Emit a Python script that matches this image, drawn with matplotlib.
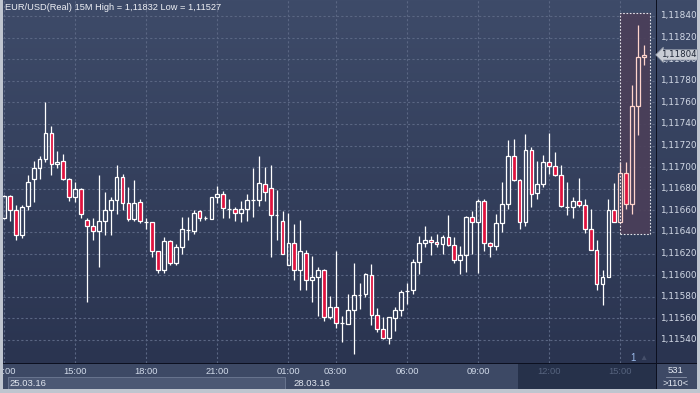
import numpy as np
import matplotlib
matplotlib.use("Agg")
import matplotlib.pyplot as plt
from matplotlib.patches import Rectangle
from matplotlib.colors import LinearSegmentedColormap

plt.rcParams['font.family'] = ['Liberation Sans', 'DejaVu Sans']

# EUR/USD 15 minute bars
opens = [1.11653, 1.11673, 1.11660, 1.11637, 1.11664, 1.11689, 1.11699, 1.11708, 1.11732, 1.11703,
         1.11706, 1.11689, 1.11672, 1.11680, 1.11651, 1.11646, 1.11641, 1.11650, 1.11660, 1.11670,
         1.11691, 1.11667, 1.11652, 1.11668, 1.11649, 1.11649, 1.11622, 1.11605, 1.11632, 1.11611,
         1.11626, 1.11642, 1.11641, 1.11659, 1.11653, 1.11652, 1.11672, 1.11675, 1.11661, 1.11661,
         1.11658, 1.11661, 1.11670, 1.11670, 1.11684, 1.11681, 1.11656, 1.11650, 1.11609, 1.11630,
         1.11605, 1.11621, 1.11596, 1.11598, 1.11605, 1.11561, 1.11571, 1.11556, 1.11555, 1.11568,
         1.11582, 1.11583, 1.11600, 1.11563, 1.11550, 1.11542, 1.11560, 1.11568, 1.11585, 1.11586,
         1.11612, 1.11630, 1.11633, 1.11631, 1.11629, 1.11635, 1.11628, 1.11614, 1.11619, 1.11654,
         1.11649, 1.11669, 1.11630, 1.11627, 1.11648, 1.11666, 1.11710, 1.11688, 1.11649, 1.11716,
         1.11676, 1.11684, 1.11705, 1.11701, 1.11693, 1.11663, 1.11663, 1.11669, 1.11665, 1.11643,
         1.11623, 1.11592, 1.11598, 1.11660, 1.11649, 1.11695, 1.11666, 1.11757, 1.11802]
highs = [1.11674, 1.11674, 1.11665, 1.11665, 1.11693, 1.11706, 1.11710, 1.11760, 1.11738, 1.11715,
         1.11712, 1.11690, 1.11686, 1.11681, 1.11653, 1.11653, 1.11693, 1.11677, 1.11672, 1.11702,
         1.11694, 1.11682, 1.11688, 1.11671, 1.11653, 1.11649, 1.11622, 1.11635, 1.11633, 1.11629,
         1.11654, 1.11654, 1.11660, 1.11660, 1.11655, 1.11672, 1.11683, 1.11678, 1.11671, 1.11663,
         1.11669, 1.11675, 1.11699, 1.11710, 1.11700, 1.11702, 1.11679, 1.11659, 1.11658, 1.11647,
         1.11651, 1.11623, 1.11618, 1.11608, 1.11606, 1.11581, 1.11622, 1.11562, 1.11583, 1.11611,
         1.11593, 1.11602, 1.11610, 1.11570, 1.11561, 1.11561, 1.11571, 1.11586, 1.11593, 1.11615,
         1.11636, 1.11646, 1.11636, 1.11638, 1.11637, 1.11656, 1.11635, 1.11627, 1.11655, 1.11659,
         1.11671, 1.11671, 1.11631, 1.11657, 1.11686, 1.11725, 1.11726, 1.11689, 1.11731, 1.11719,
         1.11706, 1.11711, 1.11732, 1.11714, 1.11702, 1.11686, 1.11672, 1.11690, 1.11671, 1.11661,
         1.11633, 1.11605, 1.11671, 1.11685, 1.11705, 1.11705, 1.11776, 1.11832, 1.11813]
lows = [1.11652, 1.11650, 1.11633, 1.11634, 1.11660, 1.11668, 1.11689, 1.11705, 1.11693, 1.11699,
        1.11688, 1.11669, 1.11668, 1.11653, 1.11575, 1.11633, 1.11608, 1.11637, 1.11637, 1.11657,
        1.11660, 1.11650, 1.11650, 1.11648, 1.11643, 1.11617, 1.11602, 1.11602, 1.11609, 1.11609,
        1.11620, 1.11633, 1.11638, 1.11650, 1.11651, 1.11652, 1.11667, 1.11653, 1.11653, 1.11650,
        1.11649, 1.11650, 1.11654, 1.11664, 1.11669, 1.11617, 1.11633, 1.11620, 1.11609, 1.11596,
        1.11586, 1.11586, 1.11575, 1.11562, 1.11558, 1.11559, 1.11551, 1.11538, 1.11555, 1.11527,
        1.11569, 1.11580, 1.11554, 1.11547, 1.11541, 1.11536, 1.11548, 1.11562, 1.11573, 1.11583,
        1.11601, 1.11626, 1.11619, 1.11626, 1.11620, 1.11627, 1.11611, 1.11601, 1.11603, 1.11620,
        1.11602, 1.11622, 1.11617, 1.11623, 1.11640, 1.11661, 1.11687, 1.11643, 1.11646, 1.11663,
        1.11671, 1.11682, 1.11694, 1.11692, 1.11663, 1.11656, 1.11653, 1.11663, 1.11639, 1.11623,
        1.11586, 1.11572, 1.11598, 1.11649, 1.11649, 1.11661, 1.11657, 1.11730, 1.11795]
closes = [1.11673, 1.11660, 1.11637, 1.11663, 1.11686, 1.11699, 1.11708, 1.11732, 1.11703, 1.11705,
          1.11689, 1.11672, 1.11680, 1.11657, 1.11646, 1.11641, 1.11650, 1.11660, 1.11670, 1.11691,
          1.11667, 1.11652, 1.11667, 1.11650, 1.11649, 1.11622, 1.11605, 1.11632, 1.11611, 1.11626,
          1.11643, 1.11642, 1.11658, 1.11653, 1.11653, 1.11672, 1.11675, 1.11662, 1.11661, 1.11658,
          1.11661, 1.11670, 1.11670, 1.11685, 1.11677, 1.11656, 1.11656, 1.11620, 1.11630, 1.11605,
          1.11622, 1.11596, 1.11598, 1.11605, 1.11561, 1.11571, 1.11556, 1.11556, 1.11568, 1.11582,
          1.11582, 1.11601, 1.11563, 1.11550, 1.11542, 1.11561, 1.11568, 1.11584, 1.11585, 1.11612,
          1.11630, 1.11633, 1.11631, 1.11629, 1.11635, 1.11628, 1.11614, 1.11619, 1.11654, 1.11649,
          1.11669, 1.11630, 1.11627, 1.11648, 1.11666, 1.11710, 1.11688, 1.11649, 1.11716, 1.11675,
          1.11684, 1.11705, 1.11701, 1.11693, 1.11664, 1.11663, 1.11669, 1.11665, 1.11643, 1.11623,
          1.11592, 1.11598, 1.11660, 1.11649, 1.11695, 1.11666, 1.11757, 1.11802, 1.11804]

time_ticks = [0, 12, 24, 36, 48, 56, 68, 80, 92, 104]
time_labels = ["12:00", "15:00", "18:00", "21:00", "01:00", "03:00", "06:00", "09:00", "12:00", "15:00"]
date_starts = [0, 48]
date_labels = ["25.03.16", "28.03.16"]
price_ticks = [1.11540, 1.11560, 1.11580, 1.11600, 1.11620, 1.11640, 1.11660, 1.11680,
               1.11700, 1.11720, 1.11740, 1.11760, 1.11780, 1.11800, 1.11820, 1.11840]
title = "EUR/USD(Real) 15M High = 1,11832 Low = 1,11527"
n_highlight = 5
bars_total = "531"
zoom_label = ">110<"

W, H = 700, 393
STEP = 5.926  # pixels per bar
fig = plt.figure(figsize=(W / 100, H / 100), dpi=100)
fig.patch.set_facecolor('#bfc5cf')


def px_axes(x0, y0, x1, y1):
    a = fig.add_axes([x0 / W, 1 - y1 / H, (x1 - x0) / W, (y1 - y0) / H])
    a.set_axis_off()
    return a


back = px_axes(3, 0, 697, 389)
back.add_patch(Rectangle((0, 0), 1, 1, transform=back.transAxes, fc='#0c1020', ec='none'))

ax = px_axes(3, 0, 656, 363)
pax = px_axes(657, 0, 697, 363)
tax = px_axes(3, 364, 656, 389)
cax = px_axes(657, 364, 697, 389)

xlim = (-1 / STEP, 652 / STEP)
ylim = (1.115187, 1.118548)
bg = LinearSegmentedColormap.from_list('bg', ['#3e4b69', '#2a3450'])
grad = np.linspace(0, 1, 256).reshape(-1, 1)
for a, xl in [(ax, xlim), (pax, (0, 1))]:
    a.imshow(grad, cmap=bg, extent=(xl[0], xl[1], ylim[0], ylim[1]), aspect='auto', origin='upper', zorder=0)
    a.set_xlim(*xl)
    a.set_ylim(*ylim)

# grid
ax.hlines(price_ticks, xlim[0], xlim[1], colors='#5a6683', linestyles=(0, (2, 2)), lw=0.8, zorder=1)
ax.vlines(time_ticks, ylim[0], ylim[1], colors='#5a6683', linestyles=(0, (2, 2)), lw=0.8, zorder=1)

o = np.array(opens)
c = np.array(closes)
hi = np.array(highs)
lo = np.array(lows)
x = np.arange(len(o))
top = np.maximum(o, c)
bot = np.minimum(o, c)

# highlighted last bars
k0 = len(o) - n_highlight
pad = 0.00011
box_lo = lo[k0:].min() - pad
box_hi = hi[k0:].max() + pad
ax.add_patch(Rectangle((k0, box_lo), n_highlight, box_hi - box_lo, fc='#4b3f59', alpha=0.92, ec='none', zorder=2))
ax.add_patch(Rectangle((k0, box_lo), n_highlight, box_hi - box_lo, fill=False, ec='#e4e4ea',
                       lw=0.8, ls=(0, (1.5, 1.5)), zorder=6))

# candles
edge = np.where(x >= k0, '#ffd4cc', 'white')
ax.vlines(x, top, hi, colors=edge, lw=0.9, zorder=3)
ax.vlines(x, lo, bot, colors=edge, lw=0.9, zorder=3)
bw = 0.64
for i in range(len(o)):
    fc = '#e0123e' if c[i] < o[i] else 'none'
    ax.add_patch(Rectangle((x[i] - bw / 2, bot[i]), bw, top[i] - bot[i], fc=fc, ec=edge[i], lw=0.9, zorder=4))

fig.text(5 / W, 1 - 8 / H, title, fontsize=6.7, color='#eef0f5', va='center', ha='left')

# price scale
for p in price_ticks:
    pax.text(0.07, p, f"{p:.5f}".replace('.', ','), fontsize=6.4, family='DejaVu Sans',
             color='#d2d9e6', va='center', ha='left')
pax.text(0.1, c[-1], f"{c[-1]:.5f}".replace('.', ','), fontsize=6.2, family='DejaVu Sans',
         color='#1e2636', va='center', ha='left',
         bbox=dict(boxstyle='larrow,pad=0.08', fc='#c9cdd5', ec='#8e96a6', lw=0.5), zorder=5)

# time axis
tax.set_xlim(*xlim)
tax.set_ylim(0, 1)
tax.add_patch(Rectangle((xlim[0], 0), xlim[1] - xlim[0], 1, fc='#3d4965', ec='none', zorder=0))
dark_from = 86.7
tax.add_patch(Rectangle((dark_from, 0), xlim[1] - dark_from, 1, fc='#26314a', ec='none', zorder=1))
tax.add_patch(Rectangle((0.7, 0.02), date_starts[1] - 0.5 - 0.7, 0.46, fc='#4c5874', ec='#6e7a94', lw=0.6, zorder=1))
for t, lab in zip(time_ticks, time_labels):
    col = '#56637e' if t > dark_from else '#d2dbea'
    tax.text(t, 0.72, lab, fontsize=6.7, color=col, ha='center', va='center', clip_on=True, zorder=3)
for s, lab in zip(date_starts, date_labels):
    tax.text(s - 0.5 + 8 / STEP, 0.24, lab, fontsize=6.8, color='#e2e7f0', ha='left', va='center', zorder=3)

cax.set_xlim(0, 1)
cax.set_ylim(0, 1)
cax.add_patch(Rectangle((0, 0), 1, 1, fc='#3d4965', ec='none'))
cax.text(0.47, 0.74, bars_total, fontsize=6.8, color='#e2e7f0', ha='center', va='center')
cax.text(0.47, 0.22, zoom_label, fontsize=6.8, color='#e2e7f0', ha='center', va='center')
cax.plot([0.22, 0.72], [0.5, 0.5], color='#8a94a8', lw=0.6)

fig.text(633 / W, 1 - 358 / H, "1", fontsize=7, color='#9cbcec', ha='center', va='center')
fig.text(643 / W, 1 - 359 / H, "\u25b2", fontsize=6, color='#454f6a', ha='center', va='center')

fig.savefig("out.png", dpi=100, facecolor=fig.get_facecolor())
